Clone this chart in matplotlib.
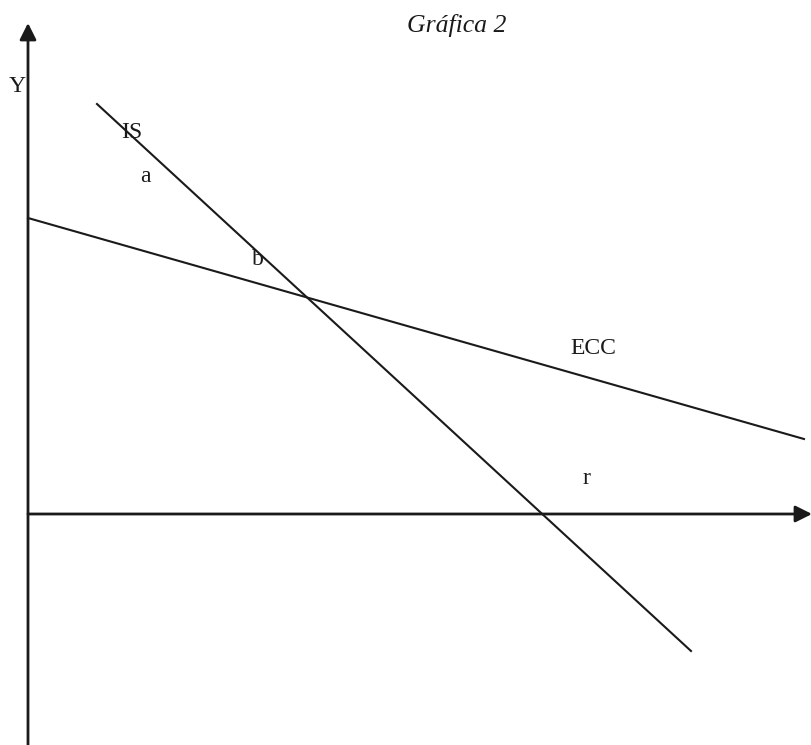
import matplotlib
matplotlib.use("Agg")
import matplotlib.pyplot as plt

# curves, in the axis units of the sketch (origin at the axes crossing)
is_x = [69, 663]
is_y = [410, -137]
ecc_x = [0, 776]
ecc_y = [296, 75]

# axis extents
x_axis = [0, 784]
y_axis = [-231, 491]

# labels and where they sit
labels = ["IS", "a", "b", "ECC", "r", "Y"]
label_x = [104, 117, 229.5, 565, 558, -10.5]
label_y = [382, 337, 254.5, 166, 35, 427.5]

fontsize = 17
plt.rcParams["font.family"] = ["Liberation Serif", "DejaVu Serif"]

fig = plt.figure(figsize=(8.12, 7.45), dpi=100)
ax = fig.add_axes([0, 0, 1, 1])
ax.set_xlim(-28, 784)
ax.set_ylim(-231, 514)
ax.axis("off")

arrow = dict(arrowstyle="-|>,head_length=1.0,head_width=0.5", color="#1a1a1a",
             lw=2, shrinkA=0, shrinkB=0)
ax.annotate("", xy=(x_axis[1], 0), xytext=(x_axis[0], 0), arrowprops=arrow)
ax.annotate("", xy=(0, y_axis[1]), xytext=(0, y_axis[0]), arrowprops=arrow)

ax.plot(is_x, is_y, color="#1a1a1a", lw=1.5)
ax.plot(ecc_x, ecc_y, color="#1a1a1a", lw=1.5)

for text, x, y in zip(labels, label_x, label_y):
    ax.text(x, y, text, fontsize=fontsize, ha="center", va="center", color="#1a1a1a")

fig.text(457 / 812, 1 - 32 / 745, "Gráfica 2", fontsize=18.5, style="italic",
         ha="center", va="baseline", color="#1a1a1a")

plt.savefig("out.png", dpi=100)
